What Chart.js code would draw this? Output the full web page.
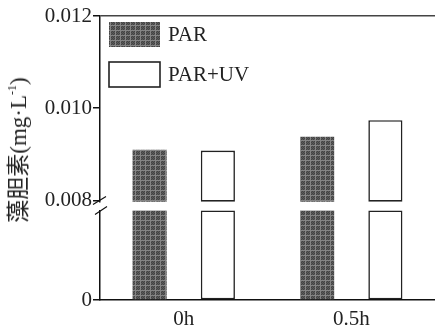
<!DOCTYPE html>
<html>
<head>
<meta charset="utf-8">
<script src="https://cdn.jsdelivr.net/npm/chart.js@4.4.1/dist/chart.umd.min.js"></script>
<style>
  html, body { margin: 0; padding: 0; background: #fff; }
  #wrap { position: relative; width: 435px; height: 327px; overflow: hidden; background: #fff; }
  #wrap canvas { position: absolute; left: 0; top: 0; }
  #ytitle {
    position: absolute; left: 16px; top: 150px;
    transform: translate(-50%, -50%) rotate(-90deg);
    white-space: nowrap; font: 23px "Liberation Serif", "Noto Sans CJK SC", serif; color: #222;
  }
  #ytitle sup { font-size: 12px; vertical-align: 10px; line-height: 0; }
</style>
</head>
<body>
<div id="wrap">
  <canvas id="upper" width="435" height="327"></canvas>
  <canvas id="lower" width="435" height="327"></canvas>
  <div id="ytitle">藻胆素(mg·L<sup>-1</sup>)</div>
</div>
<script>
// ---- data ----
const categories = ['0h', '0.5h'];
const seriesNames = ['PAR', 'PAR+UV'];
const parValues = [0.0091, 0.00938];
const parUvValues = [0.00908, 0.00974];
const upperTicks = [0.008, 0.010, 0.012];
const lowerTicks = [0];
const breakValue = 0.008;
const upperMin = 0.00797;
const upperMax = 0.012;

// ---- styles ----
const FONT = { family: '"Liberation Serif", "Times New Roman", serif', size: 21 };
const TEXT_COLOR = '#222';

function makePattern() {
  const c = document.createElement('canvas');
  c.width = 5; c.height = 5;
  const g = c.getContext('2d');
  g.fillStyle = '#434343';
  g.fillRect(0, 0, 5, 5);
  g.fillStyle = '#5c5c5c';
  for (let y = 0; y < 5; y++) for (let x = 0; x < 5; x++) if ((x + y) % 2 === 0) g.fillRect(x, y, 1, 1);
  g.fillStyle = '#858585';
  g.fillRect(0, 0, 5, 1);
  g.fillRect(0, 0, 1, 5);
  return g.createPattern(c, 'repeat');
}
const parFill = makePattern();

function datasetsFor(parData, uvData, base) {
  return [
    { label: seriesNames[0], data: parData, base: base, backgroundColor: parFill, borderWidth: 0, clip: false,
      categoryPercentage: 0.815, barPercentage: 0.5 },
    { label: seriesNames[1], data: uvData, base: base, backgroundColor: '#fff', borderColor: '#222', borderWidth: 1.6,
      borderSkipped: false, clip: false, categoryPercentage: 0.815, barPercentage: 0.5 }
  ];
}

const legendPlugin = {
  id: 'boxLegend',
  afterDraw(chart) {
    const ctx = chart.ctx;
    const left = chart.chartArea.left + 9;
    ctx.save();
    chart.data.datasets.forEach((ds, i) => {
      const top = 22 + i * 40;
      ctx.fillStyle = ds.backgroundColor;
      ctx.fillRect(left, top, 51, 25);
      if (ds.borderWidth) {
        ctx.lineWidth = ds.borderWidth;
        ctx.strokeStyle = ds.borderColor;
        ctx.strokeRect(left, top, 51, 25);
      }
      ctx.fillStyle = TEXT_COLOR;
      ctx.font = FONT.size + 'px ' + FONT.family;
      ctx.textBaseline = 'middle';
      ctx.textAlign = 'left';
      ctx.fillText(ds.label, left + 59, top + 13);
    });
    ctx.restore();
  }
};

const breakPlugin = {
  id: 'breakMarks',
  afterDraw(chart) {
    const ctx = chart.ctx;
    const x = chart.chartArea.left;
    const t = chart.chartArea.top;
    ctx.save();
    ctx.strokeStyle = '#111';
    ctx.lineWidth = 1.2;
    ctx.beginPath();
    ctx.moveTo(x - 7, t - 6); ctx.lineTo(x + 6, t - 14);
    ctx.moveTo(x - 5, t + 4); ctx.lineTo(x + 7, t - 4);
    ctx.stroke();
    ctx.restore();
  }
};

// ---- upper chart (0.008 - 0.012) ----
new Chart(document.getElementById('upper'), {
  type: 'bar',
  data: { labels: categories, datasets: datasetsFor(parValues, parUvValues, upperMin) },
  options: {
    responsive: false, animation: false,
    layout: { padding: { top: 16, bottom: 125.3, left: 0, right: 0 } },
    plugins: { legend: { display: false }, tooltip: { enabled: false } },
    scales: {
      x: { display: false, offset: true },
      y: {
        min: upperMin, max: upperMax,
        afterBuildTicks: s => { s.ticks = upperTicks.map(v => ({ value: v })); },
        afterFit: s => { s.width = 100; },
        ticks: { font: FONT, color: TEXT_COLOR, padding: 1, callback: v => v.toFixed(3) },
        grid: {
          color: c => (c.tick && Math.abs(c.tick.value - upperMax) < 1e-9) ? '#444' : 'rgba(0,0,0,0)',
          lineWidth: 1.5, tickColor: '#111', tickLength: 7, drawTicks: true
        },
        border: { display: true, color: '#111', width: 1.5 }
      }
    }
  },
  plugins: [legendPlugin]
});

// ---- lower chart (0 - 0.008) ----
new Chart(document.getElementById('lower'), {
  type: 'bar',
  data: {
    labels: categories,
    datasets: datasetsFor(parValues.map(v => Math.min(v, breakValue)), parUvValues.map(v => Math.min(v, breakValue)), 0)
  },
  options: {
    responsive: false, animation: false,
    layout: { padding: { top: 210.5, bottom: 0, left: 0, right: 0 } },
    plugins: { legend: { display: false }, tooltip: { enabled: false } },
    scales: {
      x: {
        offset: true,
        afterFit: s => { s.height = 27; },
        ticks: { font: FONT, color: TEXT_COLOR, padding: 7 },
        grid: { display: false, drawTicks: false },
        border: { display: true, color: '#111', width: 1.5 }
      },
      y: {
        min: 0, max: breakValue,
        afterBuildTicks: s => { s.ticks = lowerTicks.map(v => ({ value: v })); },
        afterFit: s => { s.width = 100; },
        ticks: { font: FONT, color: TEXT_COLOR, padding: 1, callback: v => String(v) },
        grid: { color: 'rgba(0,0,0,0)', tickColor: '#111', tickLength: 7, drawTicks: true, lineWidth: 1.5 },
        border: { display: true, color: '#111', width: 1.5 }
      }
    }
  },
  plugins: [breakPlugin]
});
</script>
</body>
</html>
